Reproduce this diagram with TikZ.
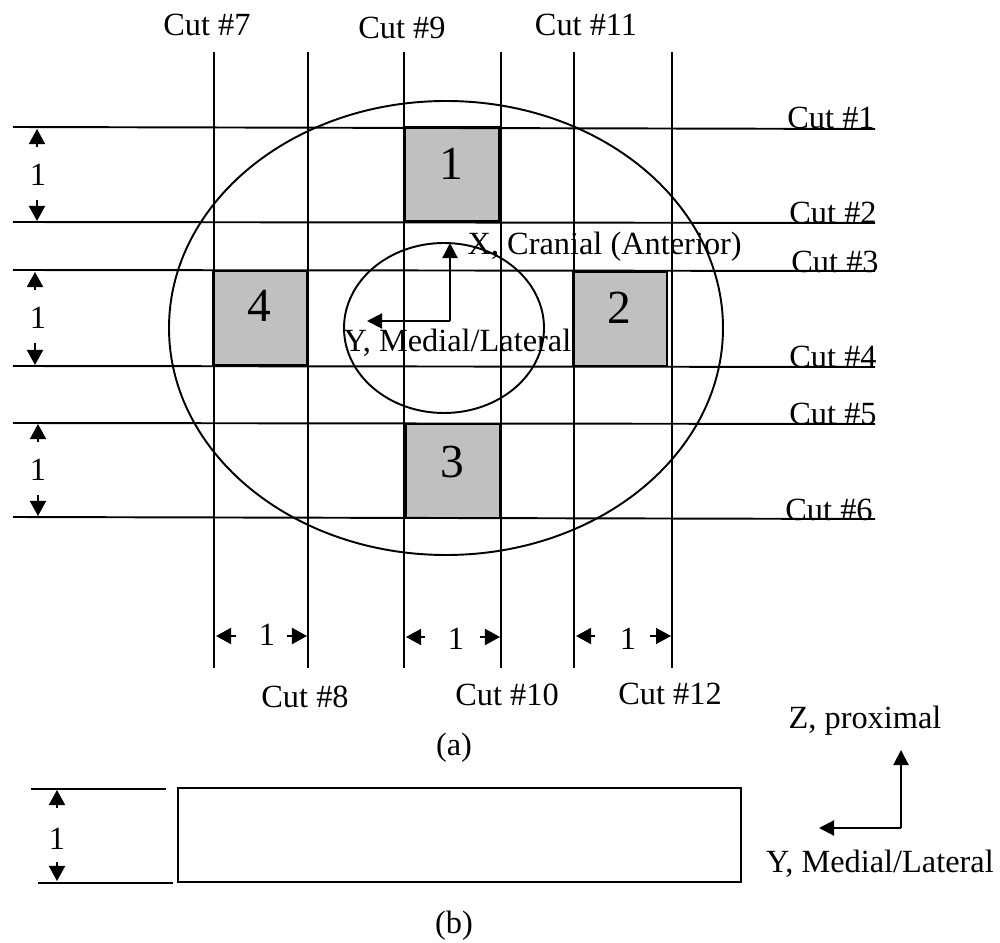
\documentclass[tikz,border=0pt]{standalone}
\usepackage{fontspec}
\setmainfont{Liberation Serif}
\usepackage{tikz}
\usetikzlibrary{arrows.meta}
\definecolor{cut gray}{rgb}{0.7529, 0.7529, 0.7529}
\tikzset{
	cutline/.style = {line width=0.55pt},
	dimarrow/.style = {line width=0.5pt, -{Triangle[length=1.5mm, width=1.6mm]}},
	axisarrow/.style = {line width=0.6pt, -{Triangle[length=1.5mm, width=1.5mm]}},
	label/.style = {anchor=base, inner sep=0pt, font=\fontsize{9.2}{9.2}\selectfont},
	boxnum/.style = {anchor=base, inner sep=0pt, font=\fontsize{13.5}{13.5}\selectfont},
}
\begin{document}
\begin{tikzpicture}[x=0.01cm, y=-0.01cm]
			\useasboundingbox (0, 0) rectangle (1000, 943);
			% part for the shaded squares
			\begin{scope}
				\fill[cut gray] (405, 127) rectangle (499, 221);
				\fill[cut gray] (573, 272) rectangle (667, 366);
				\fill[cut gray] (406, 424) rectangle (500, 518);
				\fill[cut gray] (213, 271) rectangle (307, 365);
			\end{scope}
			% part for the horizontal cuts
			\begin{scope}[cutline]
				\draw (13, 127) -- (875, 129);
				\draw (13, 222) -- (875, 223);
				\draw (13, 270) -- (875, 271);
				\draw (13, 366) -- (875, 367);
				\draw (13, 423) -- (875, 424);
				\draw (13, 517) -- (875, 519);
			\end{scope}
			% part for the vertical cuts
			\begin{scope}[cutline]
				\draw (214, 52) -- (214, 668);
				\draw (308, 52) -- (308, 668);
				\draw (404, 52) -- (404, 668);
				\draw (501, 52) -- (501, 668);
				\draw (574, 52) -- (574, 668);
				\draw (672, 52) -- (672, 668);
			\end{scope}
			% outline of squares and ellipses
			\draw[cutline]
				(405, 127) rectangle (499, 221)
				(573, 272) rectangle (667, 366)
				(406, 424) rectangle (500, 518)
				(213, 271) rectangle (307, 365)
				(446, 328) ellipse (277 and 227)
				(444, 328) ellipse (100 and 85);
			\node[boxnum] (num1) at (451, 180) {1};
			\node[boxnum] (num2) at (619, 324) {2};
			\node[boxnum] (num3) at (452, 478) {3};
			\node[boxnum] (num4) at (259, 322) {4};
			% axes inside the section
			\coordinate (xtip) at (450, 243);
			\coordinate (ytip) at (367, 321);
			\draw[axisarrow] (450, 321) -- (xtip);
			\draw[axisarrow] (450, 321) -- (ytip);
			\node[label, anchor=base west] (xlabel) at (467, 255) {X, Cranial (Anterior)};
			\node[label, anchor=base west] (ylabel) at (343, 352) {Y, Medial/Lateral};
			% dimensions on the left
			\draw[dimarrow] (37, 147) -- (37, 129);
			\draw[dimarrow] (37, 200) -- (37, 221);
			\node[label] (dim1) at (38, 186) {1};
			\draw[dimarrow] (35, 290) -- (35, 272);
			\draw[dimarrow] (35, 343) -- (35, 365);
			\node[label] (dim2) at (38, 329) {1};
			\draw[dimarrow] (38, 442) -- (38, 424);
			\draw[dimarrow] (38, 495) -- (38, 516);
			\node[label] (dim3) at (38, 481) {1};
			% dimensions at the bottom
			\draw[dimarrow] (236, 636) -- (216, 636);
			\draw[dimarrow] (287, 636) -- (307, 636);
			\node[label] (dim4) at (267, 645) {1};
			\draw[dimarrow] (425, 637) -- (406, 637);
			\draw[dimarrow] (480, 637) -- (500, 637);
			\node[label] (dim5) at (456, 649) {1};
			\draw[dimarrow] (595, 636) -- (576, 636);
			\draw[dimarrow] (650, 636) -- (671, 636);
			\node[label] (dim6) at (628, 649) {1};
			% labels of the cuts
			\node[label] (cut1) at (831, 129) {Cut \#1};
			\node[label] (cut2) at (833, 224) {Cut \#2};
			\node[label] (cut3) at (835, 273) {Cut \#3};
			\node[label] (cut4) at (833, 368) {Cut \#4};
			\node[label] (cut5) at (833, 425) {Cut \#5};
			\node[label] (cut6) at (829, 521) {Cut \#6};
			\node[label] (cut7) at (207, 36) {Cut \#7};
			\node[label] (cut8) at (305, 707) {Cut \#8};
			\node[label] (cut9) at (402, 39) {Cut \#9};
			\node[label] (cut10) at (507, 705) {Cut \#10};
			\node[label] (cut11) at (586, 36) {Cut \#11};
			\node[label] (cut12) at (670, 704) {Cut \#12};
			\node[label] (capa) at (454, 755) {(a)};
			% part for the side view
			\draw[cutline] (178, 788) rectangle (741, 882);
			\draw[cutline] (31, 789) -- (166, 789);
			\draw[cutline] (38, 883) -- (173, 883);
			\draw[dimarrow] (57, 808) -- (57, 790);
			\draw[dimarrow] (57, 862) -- (57, 881);
			\node[label] (dim7) at (57, 849) {1};
			\node[label] (capb) at (454, 933) {(b)};
			% axes of the side view
			\coordinate (ztip) at (901, 750);
			\coordinate (wtip) at (819, 828);
			\draw[axisarrow] (901, 828) -- (ztip);
			\draw[axisarrow] (901, 828) -- (wtip);
			\node[label] (zlabel) at (865, 728) {Z, proximal};
			\node[label] (wlabel) at (880, 872) {Y, Medial/Lateral};
		\end{tikzpicture}
\end{document}
